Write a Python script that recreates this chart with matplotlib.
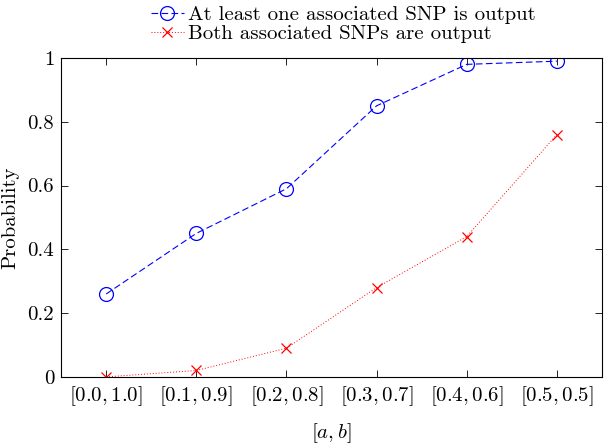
import matplotlib
matplotlib.use("Agg")
import matplotlib.pyplot as plt

plt.rcParams['font.family'] = ['cmr10', 'DejaVu Serif']
plt.rcParams['mathtext.fontset'] = 'cm'
plt.rcParams['axes.formatter.use_mathtext'] = True

intervals = ['[0.0, 1.0]', '[0.1, 0.9]', '[0.2, 0.8]', '[0.3, 0.7]', '[0.4, 0.6]', '[0.5, 0.5]']
at_least_one = [0.26, 0.45, 0.59, 0.85, 0.98, 0.99]
both = [0.0, 0.02, 0.09, 0.28, 0.44, 0.76]
y_ticks = [0, 0.2, 0.4, 0.6, 0.8, 1]
y_labels = ['0', '0.2', '0.4', '0.6', '0.8', '1']

fig = plt.figure(figsize=(6.05, 4.46), dpi=100)
ax = fig.add_axes([0.101, 0.155, 0.894, 0.715])

x = list(range(len(intervals)))
ax.plot(x, at_least_one, color='blue', linestyle=(0, (6, 3)), linewidth=0.8,
        marker='o', markersize=10, markerfacecolor='none', markeredgewidth=0.9,
        label='At least one associated SNP is output')
ax.plot(x, both, color='red', linestyle=(0, (1, 2)), linewidth=0.7,
        marker='x', markersize=7, markeredgewidth=0.9,
        label='Both associated SNPs are output')

ax.set_xlim(-0.5, len(intervals) - 0.5)
ax.set_ylim(0, 1)
ax.set_xticks(x)
ax.set_xticklabels(['$' + s + '$' for s in intervals], fontsize=15)
ax.set_yticks(y_ticks)
ax.set_yticklabels(y_labels, fontsize=15)
ax.tick_params(direction='in', top=True, right=True, length=5, width=0.6, pad=5)
for sp in ax.spines.values():
    sp.set_linewidth(0.8)

ax.set_xlabel('$[a, b]$', fontsize=15, labelpad=10)
ax.set_ylabel('Probability', fontsize=15, labelpad=6)

fig.legend(loc='upper left', bbox_to_anchor=(0.225, 1.02), frameon=False,
           fontsize=15, handlelength=1.6, handletextpad=0.2, labelspacing=0.0,
           borderpad=0.2)

fig.savefig('out.png', dpi=100)
